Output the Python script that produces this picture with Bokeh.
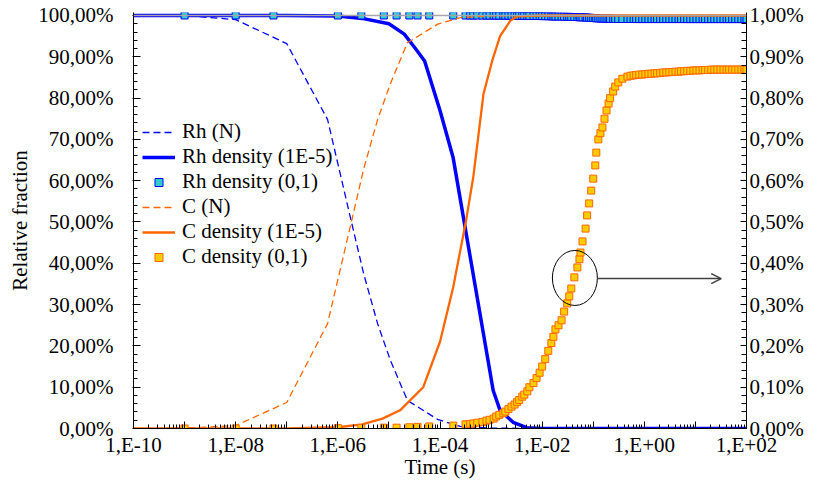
from bokeh.plotting import figure
from bokeh.models import (Range1d, LinearAxis, SingleIntervalTicker, FixedTicker,
                          CustomJSTickFormatter, Span, Arrow, OpenHead)
from bokeh.embed import file_html
from bokeh.resources import INLINE

# ---------------- data ----------------
# Rh (N) and C (N)  -- time in s, fraction in %
n_time = [1e-10, 1e-9, 1e-8, 1e-7, 6.3e-7, 1.8e-6, 3.2e-6, 6e-6, 1.07e-5, 2.3e-5,
          9e-5, 2.5e-4, 1e-3, 1e-2, 1e-1, 1.0, 10.0, 100.0]
rh_n = [100.0, 100.0, 99.0, 93.2, 74.8, 50.6, 37.5, 25.4, 16.5, 6.8,
        2.2, 0.5, 0.1, 0.0, 0.0, 0.0, 0.0, 0.0]
c_n = [0.0, 0.1, 0.7, 6.3, 25.4, 49.5, 62.8, 74.8, 83.5, 93.4,
       97.9, 99.5, 99.9, 100.0, 100.0, 100.0, 100.0, 100.0]

# Rh density (1E-5)
rh_d5_time = [1e-10, 1e-8, 1e-7, 1e-6, 3e-6, 1e-5, 2e-5, 3.3e-5, 5e-5, 1e-4,
              1.8e-4, 1.1e-3, 1.5e-3, 2.7e-3, 5e-3, 1e-2, 1e-1, 1.0, 10.0, 100.0]
rh_d5 = [100.0, 100.0, 100.0, 99.9, 99.3, 98.0, 95.5, 92.0, 89.0, 77.0,
         65.7, 9.2, 4.4, 1.5, 0.2, 0.0, 0.0, 0.0, 0.0, 0.0]

# C density (1E-5)
c_d5_time = [1e-10, 1e-7, 1e-6, 3e-6, 7.5e-6, 1.65e-5, 4.7e-5, 1e-4, 1.8e-4, 3.2e-4,
             4.5e-4, 7.1e-4, 1.05e-3, 1.5e-3, 2.4e-3, 3.3e-3, 1e-2, 1e-1, 1.0, 10.0, 100.0]
c_d5 = [0.0, 0.0, 0.3, 1.0, 2.4, 4.4, 10.0, 21.0, 34.0, 50.0,
        61.0, 81.0, 89.0, 95.0, 98.8, 99.8, 100.0, 100.0, 100.0, 100.0, 100.0]

# density (0,1) simulation: log10 of time in s
d01_exp = [-9.0, -8.0, -7.26, -6.0, -5.54, -5.10, -4.85, -4.60, -4.44, -4.21, -3.74,
           -3.50, -3.41, -3.35, -3.27, -3.17, -3.09, -3.03, -2.95, -2.90, -2.84,
           -2.76, -2.72, -2.66, -2.60, -2.54, -2.49, -2.45, -2.39, -2.35, -2.29,
           -2.25, -2.17, -2.11, -2.05, -2.00, -1.94, -1.88, -1.82, -1.78, -1.74,
           -1.68, -1.62, -1.57, -1.51, -1.47, -1.43, -1.37, -1.31, -1.27, -1.25,
           -1.21, -1.15, -1.12, -1.08, -1.04, -1.00, -0.96, -0.94, -0.90, -0.86,
           -0.82, -0.78, -0.74, -0.70, -0.67, -0.61, -0.57, -0.51, -0.43, -0.33,
           -0.27, -0.21, -0.16, -0.10, -0.04, 0.02, 0.08, 0.14, 0.20, 0.25,
           0.31, 0.37, 0.43, 0.49, 0.55, 0.61, 0.67, 0.72, 0.78, 0.84,
           0.90, 0.96, 1.02, 1.08, 1.14, 1.19, 1.25, 1.31, 1.37, 1.43,
           1.49, 1.55, 1.61, 1.66, 1.72, 1.78, 1.84, 1.90, 1.96, 2.00]

# Rh density (0,1)  -- left axis, %
rh_d01 = [100.0, 100.0, 100.0, 100.0, 100.0, 100.0, 100.0, 100.0, 100.0, 100.0, 99.99,
          99.99, 99.99, 99.99, 99.99, 99.98, 99.98, 99.98, 99.98, 99.97, 99.97,
          99.96, 99.96, 99.95, 99.95, 99.94, 99.94, 99.93, 99.92, 99.92, 99.91,
          99.90, 99.89, 99.88, 99.87, 99.85, 99.83, 99.81, 99.79, 99.78, 99.76,
          99.75, 99.74, 99.72, 99.70, 99.68, 99.66, 99.63, 99.61, 99.59, 99.57,
          99.55, 99.52, 99.48, 99.46, 99.42, 99.40, 99.36, 99.33, 99.30, 99.29,
          99.27, 99.25, 99.23, 99.21, 99.20, 99.18, 99.17, 99.16, 99.15, 99.15,
          99.15, 99.15, 99.14, 99.14, 99.14, 99.14, 99.14, 99.14, 99.14, 99.14,
          99.14, 99.14, 99.14, 99.14, 99.14, 99.14, 99.14, 99.14, 99.14, 99.13,
          99.13, 99.13, 99.13, 99.13, 99.13, 99.13, 99.13, 99.13, 99.13, 99.13,
          99.13, 99.13, 99.13, 99.13, 99.13, 99.13, 99.13, 99.13, 99.13, 99.13]

# C density (0,1)  -- right axis, %
c_d01 = [0.0, 0.0, 0.0, 0.001, 0.001, 0.002, 0.002, 0.003, 0.004, 0.005, 0.007,
         0.010, 0.011, 0.012, 0.014, 0.016, 0.019, 0.021, 0.024, 0.029, 0.033,
         0.037, 0.041, 0.047, 0.053, 0.058, 0.064, 0.069, 0.077, 0.082, 0.090,
         0.100, 0.110, 0.122, 0.135, 0.150, 0.168, 0.188, 0.207, 0.222, 0.240,
         0.250, 0.262, 0.283, 0.303, 0.320, 0.339, 0.366, 0.390, 0.410, 0.426,
         0.453, 0.484, 0.516, 0.545, 0.576, 0.605, 0.637, 0.668, 0.700, 0.715,
         0.729, 0.750, 0.770, 0.787, 0.800, 0.816, 0.828, 0.838, 0.847, 0.852,
         0.854, 0.855, 0.856, 0.857, 0.857, 0.858, 0.859, 0.859, 0.860, 0.860,
         0.861, 0.862, 0.862, 0.863, 0.863, 0.864, 0.864, 0.865, 0.865, 0.866,
         0.866, 0.867, 0.867, 0.867, 0.868, 0.868, 0.868, 0.869, 0.869, 0.869,
         0.869, 0.869, 0.869, 0.869, 0.869, 0.869, 0.869, 0.869, 0.869, 0.869]

d01_time = [10 ** e for e in d01_exp]

x_tick_exps = list(range(-10, 3))

# ---------------- styling ----------------
FONT = "Liberation Serif"
FS = "21px"
BLUE = "#0000FF"
ORANGE = "#FF6600"

TOP_PAD = 0.726   # keeps the markers at 100 % from being cut at the top
p = figure(width=806, height=482, x_axis_type="log",
           x_range=Range1d(1e-10, 1e2), y_range=Range1d(0, 100 + TOP_PAD),
           output_backend="svg", toolbar_location=None,
           min_border_left=133, min_border_right=60,
           min_border_top=12, min_border_bottom=54)
p.extra_y_ranges = {"right": Range1d(0, 1 + TOP_PAD / 100)}
p.xgrid.visible = False
p.ygrid.visible = False
p.outline_line_color = None
p.background_fill_color = "white"
p.border_fill_color = "white"

pct_fmt = CustomJSTickFormatter(code="return tick.toFixed(2).replace('.', ',') + '%';")

# x axis
xa = p.xaxis[0]
xa.ticker = FixedTicker(ticks=[10.0 ** k for k in x_tick_exps],
                        minor_ticks=[m * 10.0 ** k for k in x_tick_exps[:-1] for m in range(2, 10)])
xa.formatter = CustomJSTickFormatter(code="""
const e = Math.round(Math.log10(tick));
if (e % 2 !== 0) return '';
const s = e < 0 ? '-' : '+';
const a = Math.abs(e);
return '1,E' + s + (a < 10 ? '0' + a : '' + a);
""")
xa.axis_label = "Time (s)"
xa.major_tick_in = 7
xa.major_tick_out = 0
xa.minor_tick_in = 4
xa.minor_tick_out = 0
xa.major_label_standoff = 4
xa.axis_label_standoff = -5

# left axis
ya = p.yaxis[0]
ya.ticker = SingleIntervalTicker(interval=10, num_minor_ticks=5)
ya.formatter = pct_fmt
ya.axis_label = "Relative fraction"
ya.major_tick_in = 7
ya.major_tick_out = 1
ya.minor_tick_in = 4
ya.minor_tick_out = 0
ya.major_label_standoff = 19
ya.axis_label_standoff = 3

# right axis
ra = LinearAxis(y_range_name="right",
                ticker=SingleIntervalTicker(interval=0.1, num_minor_ticks=5),
                formatter=pct_fmt)
ra.major_tick_in = 6
ra.major_tick_out = 0
ra.minor_tick_in = 5
ra.minor_tick_out = 0
ra.major_label_standoff = 3
p.add_layout(ra, "right")

for ax in (xa, ya, ra):
    ax.axis_line_color = "black"
    ax.major_tick_line_color = "black"
    ax.minor_tick_line_color = "black"
    ax.major_label_text_font = FONT
    ax.major_label_text_font_size = FS
    ax.major_label_text_color = "black"
    ax.axis_label_text_font = FONT
    ax.axis_label_text_font_size = FS
    ax.axis_label_text_font_style = "normal"
    ax.axis_label_text_color = "black"

# gray line along the top (100 %)
p.add_layout(Span(location=100, dimension="width", line_color="#A6A6A6", line_width=1.5))

# ---------------- series ----------------
p.line(n_time, rh_n, line_color=BLUE, line_width=1.3, line_dash="7 4",
       legend_label="Rh (N)")
p.line(rh_d5_time, rh_d5, line_color=BLUE, line_width=3.5,
       legend_label="Rh density (1E-5)")
p.scatter(d01_time, rh_d01, marker="square", size=7, fill_color="#33CCCC",
          line_color=BLUE, line_width=1, legend_label="Rh density (0,1)")
p.line(n_time, c_n, line_color=ORANGE, line_width=1.3, line_dash="7 4",
       legend_label="C (N)")
p.line(c_d5_time, c_d5, line_color=ORANGE, line_width=2.3,
       legend_label="C density (1E-5)")
p.scatter(d01_time, c_d01, marker="square", size=7, fill_color="#FFCC00",
          line_color=ORANGE, line_width=1, y_range_name="right",
          legend_label="C density (0,1)")

# annotation: ellipse + arrow to the right axis
p.ellipse(x=[0.0437], y=[36.45], width=45, height=55,
          width_units="screen", height_units="screen",
          fill_color=None, line_color="black", line_width=1)
p.add_layout(Arrow(end=OpenHead(size=10, line_color="#404040", line_width=1.5),
                   x_start=0.12, y_start=36.3, x_end=32.0, y_end=36.3,
                   line_color="#404040", line_width=1.5))

# legend
lg = p.legend[0]
lg.location = (9, 159)
lg.padding = 0
lg.margin = 0
lg.spacing = -1
lg.glyph_width = 33
lg.glyph_height = 20
lg.label_height = 20
lg.label_standoff = 7
lg.label_text_font = FONT
lg.label_text_font_size = FS
lg.label_text_color = "black"
lg.background_fill_alpha = 0
lg.border_line_color = None

open("out.html", "w").write(file_html(p, INLINE))
